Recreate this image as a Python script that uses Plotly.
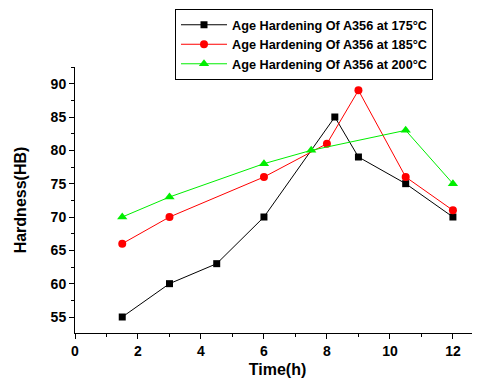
import plotly.graph_objects as go

series_names = [
    "Age Hardening Of A356 at 175°C",
    "Age Hardening Of A356 at 185°C",
    "Age Hardening Of A356 at 200°C",
]
time_175 = [1.5, 3, 4.5, 6, 8.25, 9, 10.5, 12]
hard_175 = [55, 60, 63, 70, 85, 79, 75, 70]
time_185 = [1.5, 3, 6, 8, 9, 10.5, 12]
hard_185 = [66, 70, 76, 81, 89, 76, 71]
time_200 = [1.5, 3, 6, 7.5, 10.5, 12]
hard_200 = [70, 73, 78, 80, 83, 75]

x_ticks = [0, 2, 4, 6, 8, 10, 12]
y_ticks = [55, 60, 65, 70, 75, 80, 85, 90]

FONT = "Arial, 'Liberation Sans', sans-serif"

# page has an 8px body margin, so the figure is drawn 8px in from the top-left
W, H = 472, 381
ML, MR, MT, MB = 67, 0, 59, 56
PW, PH = W - ML - MR, H - MT - MB

fig = go.Figure()
fig.add_trace(go.Scatter(x=time_175, y=hard_175, name=series_names[0], mode="lines+markers",
                         line=dict(color="black", width=1),
                         marker=dict(symbol="square", size=7, color="black")))
fig.add_trace(go.Scatter(x=time_185, y=hard_185, name=series_names[1], mode="lines+markers",
                         line=dict(color="red", width=1),
                         marker=dict(symbol="circle", size=8, color="red")))
fig.add_trace(go.Scatter(x=time_200, y=hard_200, name=series_names[2], mode="lines+markers",
                         line=dict(color="#00ee00", width=1),
                         marker=dict(symbol="triangle-up", size=9, color="#00ee00")))

fig.update_layout(
    width=W, height=H,
    margin=dict(l=ML, r=MR, t=MT, b=MB),
    paper_bgcolor="white", plot_bgcolor="white",
    font=dict(family=FONT, size=12, color="black"),
    legend=dict(
        x=(167 - ML) / PW, y=(H - MB - 1) / PH, xanchor="left", yanchor="top",
        bgcolor="white", bordercolor="black", borderwidth=1,
        font=dict(family=FONT, size=12.7, color="black", weight="bold"),
        tracegroupgap=0, itemwidth=46,
    ),
    xaxis=dict(
        range=[0, 12.86], tickvals=x_ticks, ticktext=[str(v) for v in x_ticks],
        showline=True, linecolor="black", linewidth=1,
        ticks="outside", ticklen=5, tickcolor="black", tickwidth=1,
        minor=dict(dtick=1, tick0=0, ticks="outside", ticklen=3, tickcolor="black", showgrid=False),
        showgrid=False, zeroline=False,
        tickfont=dict(family=FONT, size=14, weight="bold"),
        title=dict(text="Time(h)", font=dict(family=FONT, size=16, weight="bold"), standoff=6),
    ),
    yaxis=dict(
        range=[52.6, 92.5], tickvals=y_ticks, ticktext=[str(v) for v in y_ticks],
        showline=True, linecolor="black", linewidth=1,
        ticks="outside", ticklen=5, tickcolor="black", tickwidth=1,
        minor=dict(dtick=2.5, tick0=55, ticks="outside", ticklen=3, tickcolor="black", showgrid=False),
        showgrid=False, zeroline=False,
        tickfont=dict(family=FONT, size=14, weight="bold"),
        title=dict(text="Hardness(HB)", font=dict(family=FONT, size=16, weight="bold"), standoff=20),
    ),
)

fig.write_html("out.html")
